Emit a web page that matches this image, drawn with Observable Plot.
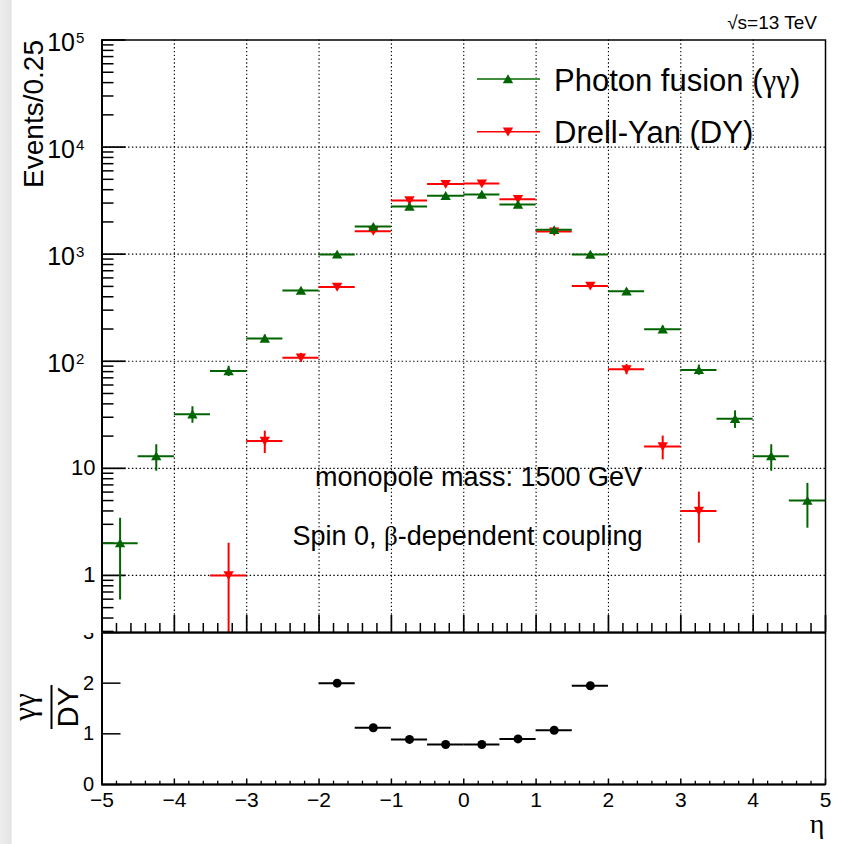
<!DOCTYPE html>
<html><head><meta charset="utf-8">
<script src="https://cdn.jsdelivr.net/npm/d3@7"></script>
<script src="https://cdn.jsdelivr.net/npm/@observablehq/plot@0.6"></script>
<style>
html,body{margin:0;padding:0;background:#fff;}
#wrap{position:relative;width:843px;height:844px;overflow:hidden;background:linear-gradient(to right,#eeeeee 0px,#e4e4e4 11px,#ffffff 12.5px);font-family:"Liberation Sans",Arial,sans-serif;}
#wrap > svg{position:absolute;left:0;top:0;}
</style></head><body><div id="wrap"></div>
<script>
// ---------- data ----------
const binCenters = [-4.75,-4.25,-3.75,-3.25,-2.75,-2.25,-1.75,-1.25,-0.75,-0.25,0.25,0.75,1.25,1.75,2.25,2.75,3.25,3.75,4.25,4.75];
const binHalfWidth = 0.25;
const photonFusion    = [2, 13, 32, 81, 163, 458, 995, 1810, 2785, 3508, 3606, 2910, 1687, 993, 450, 199, 83, 29, 13, 5];
const photonFusionErr = [1.41, 3.6, 5.66, 9, 12.8, 21.4, 31.5, 42.5, 52.8, 59.2, 60, 53.9, 41.1, 31.5, 21.2, 14.1, 9.1, 5.4, 3.6, 2.24];
const drellYan    = [null, null, null, 1, 18, 108, 494, 1640, 3170, 4510, 4560, 3265, 1626, 505, 84, 16, 4, null, null, null];
const drellYanErr = [null, null, null, 1, 4.24, 10.4, 22.2, 40.5, 56.3, 67.2, 67.5, 57.1, 40.3, 22.5, 9.2, 4, 2, null, null, null];
const ratioCenters = [-1.75, -1.25, -0.75, -0.25, 0.25, 0.75, 1.25, 1.75];
const ratioValues  = [2.0, 1.12, 0.89, 0.79, 0.79, 0.90, 1.07, 1.95];
const xMajorTicks = [-5,-4,-3,-2,-1,0,1,2,3,4,5];
const xGridTicks = [-4,-3,-2,-1,0,1,2,3,4];
const yDecadeTicks = [1, 10, 100, 1000, 10000, 100000];
const yGridTicks = [1, 10, 100, 1000, 10000];
const yPlainLabels = [1, 10];
const yPowerLabels = [100, 1000, 10000, 100000];
const ratioTicks = [0, 1, 2, 3];
const yDomain = [0.293, 100000];
const ratioDomain = [0, 3];

// ---------- styles ----------
const GREEN = "#006400", RED = "#ff0000";
const FONT = '"Liberation Sans", Arial, Helvetica, sans-serif';
const SERIF = '"Liberation Serif", "Times New Roman", serif';

const triUp = {draw(ctx, size){ const r = Math.sqrt(size/Math.PI); ctx.moveTo(0,-0.9*r); ctx.lineTo(r,0.8*r); ctx.lineTo(-r,0.8*r); ctx.closePath(); }};
const triDown = {draw(ctx, size){ const r = Math.sqrt(size/Math.PI); ctx.moveTo(0,0.9*r); ctx.lineTo(r,-0.8*r); ctx.lineTo(-r,-0.8*r); ctx.closePath(); }};

const ggData = binCenters.map((x,i)=>({x, v: photonFusion[i], e: photonFusionErr[i]}));
const dyData = binCenters.map((x,i)=>({x, v: drellYan[i], e: drellYanErr[i]})).filter(d=>d.v != null);
const ratioData = ratioCenters.map((x,i)=>({x, v: ratioValues[i]}));

const xMinor = d3.range(-50, 51, 2).filter(d => d % 10 !== 0).map(d => d/10);
const yMinor = [];
for (let e = -1; e <= 4; e++) for (let m = 2; m <= 9; m++) { const v = m*Math.pow(10,e); if (v >= yDomain[0] && v <= yDomain[1]) yMinor.push(v); }

const lo = d => Math.max(d.v - d.e, yDomain[0]);
const hi = d => d.v + d.e;
const grid = {stroke:"#000", strokeOpacity:1, strokeWidth:1.1, strokeDasharray:"1.4,2.4"};

// ---------- ratio panel (drawn first, underneath) ----------
const ratioPlot = Plot.plot({
  width: 843, height: 844,
  marginTop: 632, marginBottom: 60, marginLeft: 101.5, marginRight: 18,
  style: {background: "transparent", fontFamily: FONT, color: "#000"},
  x: {domain: [-5, 5]},
  y: {domain: ratioDomain},
  marks: [
    Plot.axisY({ticks: ratioTicks, tickSize: -19, tickFormat: () => "", label: null, strokeWidth: 1.5}),
    Plot.axisY({ticks: ratioTicks, tickSize: 0, tickPadding: 8, fontSize: 20, label: null, tickFormat: d => String(d)}),
    Plot.axisX({ticks: xMinor, tickSize: -3.3, tickFormat: () => "", label: null, strokeWidth: 1.3}),
    Plot.axisX({ticks: xMajorTicks, tickSize: -5.5, tickFormat: () => "", label: null, strokeWidth: 1.5}),
    Plot.axisX({ticks: xMajorTicks, tickSize: 0, tickPadding: 8, fontSize: 21, label: null}),
    Plot.ruleY(ratioData, {y: "v", x1: d => d.x - binHalfWidth, x2: d => d.x + binHalfWidth, stroke: "#000", strokeWidth: 2}),
    Plot.dot(ratioData, {x: "x", y: "v", r: 4.5, fill: "#000", stroke: null}),
    Plot.frame({stroke: "#000", strokeWidth: 1.5}),
    Plot.ruleX([-5], {stroke: "#000", strokeWidth: 2}),
    Plot.ruleY([0], {stroke: "#000", strokeWidth: 2})
  ]
});

// ---------- main panel ----------
const mainPlot = Plot.plot({
  width: 843, height: 633,
  marginTop: 39.5, marginBottom: 1, marginLeft: 101.5, marginRight: 18,
  style: {background: "linear-gradient(to right,#eeeeee 0px,#e4e4e4 11px,#ffffff 12.5px)", fontFamily: FONT, color: "#000", overflow: "visible"},
  x: {domain: [-5, 5]},
  y: {type: "log", domain: yDomain},
  marks: [
    Plot.frame({fill: "#fff", stroke: null}),
    Plot.gridX({ticks: xGridTicks, ...grid}),
    Plot.gridY({ticks: yGridTicks, ...grid}),
    Plot.axisY({ticks: yMinor, tickSize: -12, tickFormat: () => "", label: null, strokeWidth: 1.5}),
    Plot.axisY({ticks: yDecadeTicks, tickSize: -24, tickFormat: () => "", label: null, strokeWidth: 1.7}),
    Plot.axisX({ticks: xMinor, tickSize: -9, tickFormat: () => "", label: null, strokeWidth: 1.5}),
    Plot.axisX({ticks: xMajorTicks, tickSize: -17, tickFormat: () => "", label: null, strokeWidth: 1.7}),
    Plot.text(yPlainLabels, {y: d => d, text: d => String(d), frameAnchor: "left", dx: -6.5, textAnchor: "end", lineAnchor: "middle", fontSize: 22}),
    Plot.text(yPowerLabels, {y: d => d, text: () => "10", frameAnchor: "left", dx: -27, dy: 11, textAnchor: "end", lineAnchor: "bottom", fontSize: 25}),
    Plot.text(yPowerLabels, {y: d => d, text: d => String(Math.round(Math.log10(d))), frameAnchor: "left", dx: -26, dy: 3, textAnchor: "start", lineAnchor: "bottom", fontSize: 15}),
    // Drell-Yan
    Plot.ruleY(dyData, {y: "v", x1: d => d.x - binHalfWidth, x2: d => d.x + binHalfWidth, stroke: RED, strokeWidth: 2, clip: true}),
    Plot.ruleX(dyData, {x: "x", y1: lo, y2: hi, stroke: RED, strokeWidth: 2, clip: true}),
    Plot.dot(dyData, {x: "x", y: "v", symbol: triDown, r: 5.2, fill: RED, stroke: null}),
    // Photon fusion
    Plot.ruleY(ggData, {y: "v", x1: d => d.x - binHalfWidth, x2: d => d.x + binHalfWidth, stroke: GREEN, strokeWidth: 2, clip: true}),
    Plot.ruleX(ggData, {x: "x", y1: lo, y2: hi, stroke: GREEN, strokeWidth: 2, clip: true}),
    Plot.dot(ggData, {x: "x", y: "v", symbol: triUp, r: 5.2, fill: GREEN, stroke: null}),
    Plot.frame({stroke: "#000", strokeWidth: 1.5}),
    Plot.ruleX([-5], {stroke: "#000", strokeWidth: 2}),
    Plot.ruleY([yDomain[0]], {stroke: "#000", strokeWidth: 2})
  ]
});

// ---------- texts, legend ----------
const ov = d3.create("svg").attr("width", 843).attr("height", 844)
  .style("pointer-events", "none").style("font-family", FONT);
const txt = (x, y, s, size, anchor) => ov.append("text").attr("x", x).attr("y", y)
  .attr("font-size", size).attr("text-anchor", anchor || "start").attr("fill", "#000").text(s);

txt(817, 29, "√s=13 TeV", 19, "end");

// legend
const legendRows = [
  {label: "Photon fusion (", greek: "γγ", tail: ")", color: GREEN, lineColor: "#3f8f3f", sym: triUp, y: 79, base: 90.5, lw: 2},
  {label: "Drell-Yan (DY)", greek: "", tail: "", color: RED, lineColor: RED, sym: triDown, y: 131.7, base: 143, lw: 1.6}
];
for (const r of legendRows) {
  ov.append("line").attr("x1", 477).attr("x2", 540).attr("y1", r.y).attr("y2", r.y).attr("stroke", r.lineColor).attr("stroke-width", r.lw);
  ov.append("path").attr("transform", `translate(508,${r.y})`).attr("d", d3.symbol(r.sym, Math.PI*5.2*5.2)()).attr("fill", r.color);
  const t = ov.append("text").attr("x", 554).attr("y", r.base).attr("font-size", 31).attr("fill", "#000");
  t.append("tspan").text(r.label);
  if (r.greek) { t.append("tspan").attr("font-family", SERIF).text(r.greek); t.append("tspan").text(r.tail); }
}

// annotations
txt(478.5, 486, "monopole mass: 1500 GeV", 27, "middle");
const sp = ov.append("text").attr("x", 467.5).attr("y", 545).attr("font-size", 27).attr("text-anchor", "middle");
sp.append("tspan").text("Spin 0, ");
sp.append("tspan").attr("font-family", SERIF).text("β");
sp.append("tspan").text("-dependent coupling");

// axis titles
ov.append("text").attr("transform", "translate(42.5,40) rotate(-90)").attr("text-anchor", "end").attr("font-size", 28).text("Events/0.25");
ov.append("text").attr("transform", "translate(35,707) rotate(-90)").attr("text-anchor", "middle").attr("font-size", 31).attr("font-family", SERIF).text("γγ");
ov.append("line").attr("x1", 51.5).attr("x2", 51.5).attr("y1", 685).attr("y2", 729).attr("stroke", "#000").attr("stroke-width", 2);
ov.append("text").attr("transform", "translate(78,707) rotate(-90)").attr("text-anchor", "middle").attr("font-size", 29).text("DY");
ov.append("text").attr("x", 817).attr("y", 833).attr("text-anchor", "middle").attr("font-size", 28).attr("font-family", SERIF).text("η");

const wrap = document.getElementById("wrap");
wrap.append(ratioPlot);
wrap.append(mainPlot);
wrap.append(ov.node());
</script>
</body></html>
